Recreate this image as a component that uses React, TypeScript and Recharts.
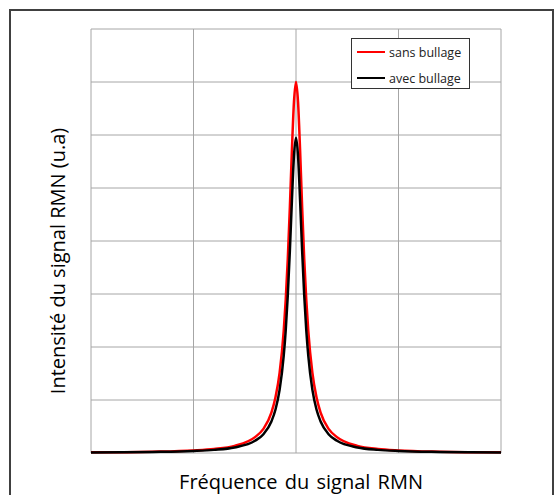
import { LineChart, Line, XAxis, YAxis, CartesianGrid, Legend } from "recharts"

// frequency axis (arbitrary units, peak centred at 50)
const frequence = [
  0, 15, 25, 30, 35, 40, 42, 44, 45, 46, 47, 47.5, 48, 48.5, 49, 49.5,
  50,
  50.5, 51, 51.5, 52, 52.5, 53, 54, 55, 56, 58, 60, 65, 70, 75, 85, 100,
]

const sansBullage = [
  0.012, 0.025, 0.049, 0.076, 0.135, 0.3, 0.45, 0.76, 1.05, 1.51, 2.3, 2.9, 3.67, 4.63, 5.71, 6.62,
  7,
  6.62, 5.71, 4.63, 3.67, 2.9, 2.3, 1.51, 1.05, 0.76, 0.45, 0.3, 0.135, 0.076, 0.049, 0.025, 0.012,
]

const avecBullage = [
  0.01, 0.02, 0.038, 0.059, 0.104, 0.23, 0.35, 0.595, 0.82, 1.19, 1.83, 2.32, 2.98, 3.81, 4.76, 5.6,
  5.95,
  5.6, 4.76, 3.81, 2.98, 2.32, 1.83, 1.19, 0.82, 0.595, 0.35, 0.23, 0.104, 0.059, 0.038, 0.02, 0.01,
]

const xTicks = [0, 25, 50, 75, 100]
const yTicks = [0, 1, 2, 3, 4, 5, 6, 7, 8]

const data = frequence.map((f, i) => ({
  f,
  sans: sansBullage[i],
  avec: avecBullage[i],
}))

const FONT = "'Open Sans', Lato, sans-serif"

function LegendBox() {
  const items = [
    { label: "sans bullage", color: "#ff0000" },
    { label: "avec bullage", color: "#000000" },
  ]
  return (
    <div
      style={{
        width: 119,
        height: 51,
        boxSizing: "border-box",
        border: "1px solid #333",
        background: "#fff",
        fontFamily: FONT,
        fontSize: 12.5,
        color: "#222",
        paddingTop: 2,
      }}
    >
      {items.map((it) => (
        <div key={it.label} style={{ display: "flex", alignItems: "center", height: 22, marginBottom: 4 }}>
          <span style={{ display: "inline-block", width: 28, height: 2.5, background: it.color, marginLeft: 5, marginRight: 4 }} />
          <span>{it.label}</span>
        </div>
      ))}
    </div>
  )
}

export default function App() {
  return (
    <div style={{ position: "fixed", left: 0, top: 0, width: 557, height: 495, background: "#fff", overflow: "hidden" }}>
      <div
        style={{
          position: "absolute",
          left: 9,
          top: 9,
          width: 545,
          height: 500,
          boxSizing: "border-box",
          border: "2px solid #404040",
        }}
      />
      <div style={{ position: "absolute", left: 0, top: 0 }}>
        <LineChart width={557} height={495} data={data} margin={{ top: 29, right: 56, bottom: 42, left: 91 }}>
          <CartesianGrid stroke="#a6a6a6" strokeWidth={1} horizontal vertical />
          <XAxis
            dataKey="f"
            type="number"
            domain={[0, 100]}
            ticks={xTicks}
            interval={0}
            tick={{ fill: "none", fontSize: 1 }}
            tickLine={false}
            axisLine={false}
            height={0}
          />
          <YAxis
            type="number"
            domain={[0, 8]}
            ticks={yTicks}
            interval={0}
            tick={{ fill: "none", fontSize: 1 }}
            tickLine={false}
            axisLine={false}
            width={0}
          />
          <Legend
            layout="vertical"
            align="center"
            verticalAlign="middle"
            wrapperStyle={{ top: 38, left: 351, width: 119 }}
            content={() => <LegendBox />}
          />
          <Line
            type="monotone"
            dataKey="sans"
            name="sans bullage"
            stroke="#ff0000"
            strokeWidth={2.5}
            dot={false}
            isAnimationActive={false}
          />
          <Line
            type="monotone"
            dataKey="avec"
            name="avec bullage"
            stroke="#000000"
            strokeWidth={2.5}
            dot={false}
            isAnimationActive={false}
          />
        </LineChart>
      </div>
      <div
        style={{
          position: "absolute",
          left: 57,
          top: 261,
          transform: "translate(-50%, -50%) rotate(-90deg)",
          whiteSpace: "nowrap",
          fontFamily: FONT,
          fontSize: 20,
          color: "#000",
        }}
      >
        Intensité du signal RMN (u.a)
      </div>
      <div
        style={{
          position: "absolute",
          left: 301,
          top: 481,
          transform: "translate(-50%, -50%)",
          whiteSpace: "nowrap",
          fontFamily: FONT,
          fontSize: 20,
          wordSpacing: 2,
          color: "#000",
        }}
      >
        Fréquence du signal RMN
      </div>
    </div>
  )
}
